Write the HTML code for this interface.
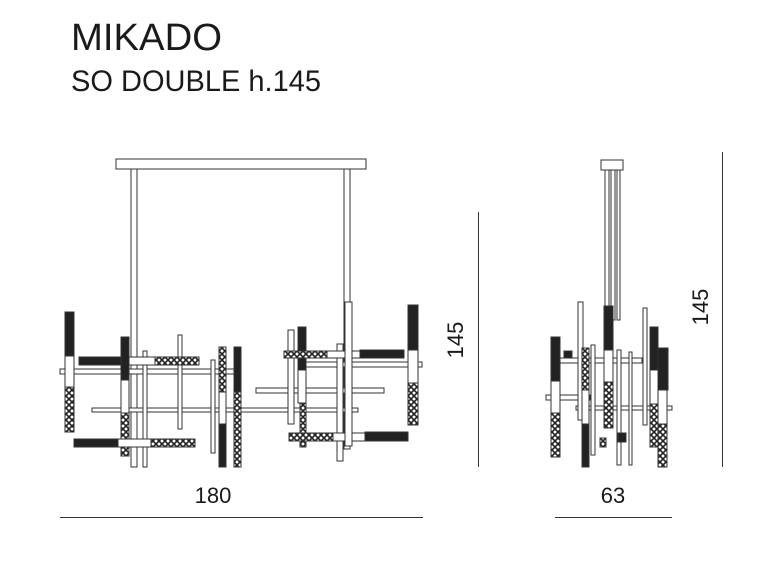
<!DOCTYPE html>
<html><head><meta charset="utf-8"><style>html,body{margin:0;padding:0;background:#fff}svg{display:block}</style></head>
<body>
<svg width="758" height="580" viewBox="0 0 758 580" xmlns="http://www.w3.org/2000/svg" font-family="Liberation Sans, sans-serif">
<defs>
<pattern id="x" width="6" height="6" patternUnits="userSpaceOnUse">
<rect width="6" height="6" fill="#fff"/>
<path d="M0 0L6 6M6 0L0 6" stroke="#222" stroke-width="1.6"/>
</pattern>
</defs>
<text x="71" y="50" font-size="38" fill="#1a1a1a" textLength="151" lengthAdjust="spacingAndGlyphs">MIKADO</text>
<text x="71" y="91" font-size="30" fill="#1a1a1a" textLength="250" lengthAdjust="spacingAndGlyphs">SO DOUBLE h.145</text>

<g stroke="#333" stroke-width="1" fill="#fff">
<!-- left canopy & rods -->
<rect x="116" y="159" width="250" height="10"/>
<rect x="131" y="169" width="6" height="298"/>
<rect x="344" y="169" width="6" height="280"/>
<rect x="92" y="408" width="266" height="4"/>
<rect x="60" y="369" width="176" height="5"/>
<rect x="300" y="362" width="122" height="5"/>
<rect x="256" y="388" width="128" height="5"/>
<rect x="178" y="335" width="4" height="94"/>
<rect x="143" y="351" width="4" height="116"/>
<rect x="211" y="360" width="4" height="93"/>
<rect x="288" y="330" width="6" height="94"/>
<rect x="337" y="344" width="6" height="117"/>
<!-- tubes left -->
<rect x="65" y="312" width="9" height="44" fill="#222"/><rect x="65" y="356" width="9" height="31"/><rect x="65" y="387" width="9" height="45" fill="url(#x)"/>
<rect x="79" y="357" width="43" height="8" fill="#222"/><rect x="122" y="357" width="33" height="8"/><rect x="155" y="357" width="44" height="8" fill="url(#x)"/>
<rect x="121" y="337" width="8" height="43" fill="#222"/><rect x="121" y="380" width="8" height="33"/><rect x="121" y="413" width="8" height="43" fill="url(#x)"/>
<rect x="74" y="439" width="44" height="8" fill="#222"/><rect x="118" y="439" width="33" height="8"/><rect x="151" y="439" width="44" height="8" fill="url(#x)"/>
<rect x="219" y="347" width="7" height="45" fill="url(#x)"/><rect x="219" y="392" width="7" height="32"/><rect x="219" y="424" width="7" height="43" fill="#222"/>
<rect x="234" y="347" width="7" height="45" fill="#222"/><rect x="234" y="392" width="7" height="75" fill="url(#x)"/>
<!-- tubes right -->
<rect x="298" y="327" width="8" height="43" fill="#222"/><rect x="298" y="370" width="8" height="33"/><rect x="300" y="403" width="6" height="44" fill="url(#x)"/>
<rect x="284" y="351" width="43" height="7" fill="url(#x)"/><rect x="327" y="351" width="33" height="7"/><rect x="360" y="350" width="44" height="8" fill="#222"/>
<rect x="408" y="305" width="10" height="45" fill="#222"/><rect x="408" y="350" width="10" height="33"/><rect x="408" y="383" width="10" height="42" fill="url(#x)"/>
<rect x="289" y="433" width="44" height="8" fill="url(#x)"/><rect x="333" y="433" width="32" height="8"/><rect x="365" y="432" width="43" height="9" fill="#222"/>
<rect x="345" y="302" width="7" height="144"/>

<!-- right drawing -->
<rect x="601" y="160" width="22" height="10"/>
<rect x="605" y="170" width="4" height="150"/><rect x="611" y="170" width="4" height="150"/><rect x="617" y="170" width="3" height="150"/>
<rect x="560" y="358" width="82" height="5"/>
<rect x="546" y="395" width="44" height="5"/>
<rect x="576" y="406" width="96" height="4"/>
<rect x="578" y="302" width="5" height="118"/>
<rect x="591" y="345" width="4" height="110"/>
<rect x="617" y="350" width="4" height="115"/>
<rect x="629" y="352" width="3" height="113"/>
<rect x="643" y="308" width="4" height="117"/>
<rect x="551" y="337" width="9" height="44" fill="#222"/><rect x="551" y="381" width="9" height="32"/><rect x="551" y="413" width="9" height="44" fill="url(#x)"/>
<rect x="564" y="351" width="8" height="7" fill="#222"/>
<rect x="582" y="348" width="7" height="42" fill="url(#x)"/><rect x="582" y="390" width="7" height="34"/><rect x="582" y="424" width="7" height="43" fill="#222"/>
<rect x="604" y="306" width="9" height="44" fill="#222"/><rect x="604" y="350" width="9" height="32"/><rect x="604" y="382" width="9" height="46" fill="url(#x)"/>
<rect x="650" y="327" width="8" height="43" fill="#222"/><rect x="650" y="370" width="8" height="34"/><rect x="650" y="404" width="8" height="43" fill="url(#x)"/>
<rect x="658" y="348" width="10" height="42" fill="#222"/><rect x="658" y="390" width="9" height="34"/><rect x="658" y="424" width="9" height="43" fill="url(#x)"/>
<rect x="618" y="433" width="8" height="9" fill="#222"/>
<rect x="600" y="438" width="6" height="9" fill="url(#x)"/>
</g>

<g stroke="#333" stroke-width="1">
<line x1="60" y1="517.5" x2="423" y2="517.5"/>
<line x1="478.5" y1="212" x2="478.5" y2="467"/>
<line x1="555" y1="517.5" x2="672" y2="517.5"/>
<line x1="722.5" y1="152" x2="722.5" y2="467"/>
</g>
<g font-size="22" fill="#1a1a1a">
<text x="213" y="503" text-anchor="middle">180</text>
<text x="613" y="503" text-anchor="middle">63</text>
<text transform="translate(463,340) rotate(-90)" text-anchor="middle">145</text>
<text transform="translate(708,307) rotate(-90)" text-anchor="middle">145</text>
</g>
</svg>
</body></html>
